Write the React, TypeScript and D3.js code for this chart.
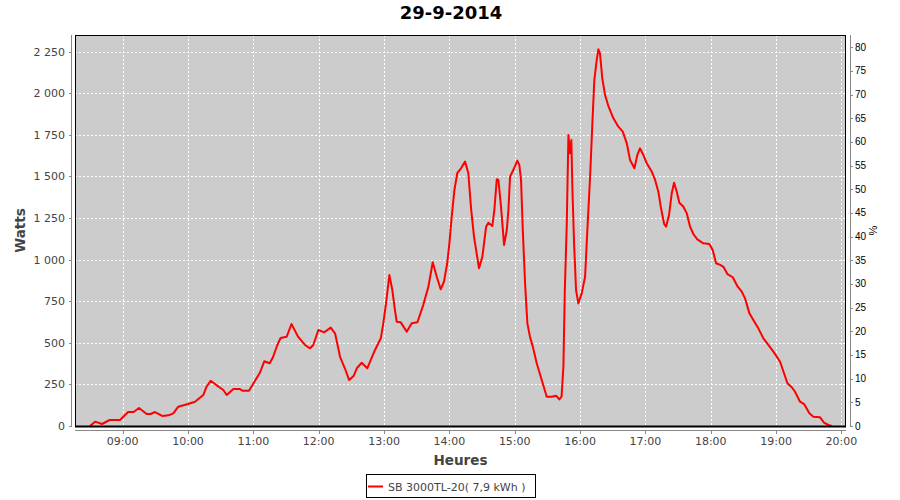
import React from "react";
import * as d3 from "d3";

const title = "29-9-2014";
const xLabel = "Heures";
const yLabel = "Watts";
const yRightLabel = "%";
const seriesName = "SB 3000TL-20( 7,9 kWh )";

// minutes since midnight
const minutes = [
  510, 514.6, 521, 528, 537.5, 545, 550, 555, 562, 565.7, 569.7, 576.7, 582, 586.5, 591, 600,
  606.4, 614, 617, 620.8, 626, 632.4, 635.5, 641.6, 647.7, 650, 656, 660, 666, 670, 675, 678,
  682, 685, 690.6, 695, 701, 707.4, 712, 715, 719.7, 725, 731, 735, 739.6, 744, 748, 752, 755,
  759.5, 764.6, 771.7, 777, 779.3, 781.8, 784.9, 787.6, 790, 791.6, 795.3, 800.8, 805.4, 810.6,
  816, 820.7, 824.7, 828.4, 832, 835, 838, 840, 842, 844.6, 847.3, 850.7, 854.4, 857.4, 859.9,
  862.6, 867.2, 870.3, 873.7, 875.8, 879.4, 881.3, 883.5, 885, 887.4, 890.2, 892.7, 894.2, 895.7,
  899.4, 902.4, 904.2, 905.8, 907.4, 909.5, 911.6, 914, 916.6, 920.2, 924.8, 929.4, 934, 938, 941,
  943, 944.7, 946, 947.8, 949.3, 950.8, 952, 952.9, 954.5, 956.3, 958.4, 961.5, 964.6, 967, 969.2,
  971.3, 973.1, 975.3, 976.8, 978.3, 980.4, 982.9, 986, 990.6, 995.2, 999.2, 1002.9, 1005.9,
  1009.9, 1012.6, 1015, 1018.1, 1021.2, 1025.8, 1028.9, 1031.9, 1034.1, 1037.2, 1039, 1041.7,
  1044.2, 1046.3, 1048.8, 1051.2, 1054.9, 1058, 1061, 1064, 1067.7, 1073.2, 1078.7, 1081.8,
  1084.9, 1088.6, 1091.6, 1095.3, 1100.2, 1104.4, 1108.5, 1111.5, 1115.5, 1119.1, 1123.7, 1128.3,
  1132.9, 1137.5, 1143.7, 1147.3, 1150.4, 1154.4, 1157.4, 1162, 1165.7, 1170.6, 1174.2, 1180.4,
  1184, 1188, 1191,
];

const watts = [
  0, 26, 12, 36, 36, 84, 84, 108, 72, 72, 84, 60, 64, 76, 116, 132,
  146, 186, 236, 272, 246, 216, 186, 222, 222, 212, 212, 256, 320, 389, 377, 413,
  487, 529, 537, 613, 537, 487, 467, 487, 577, 563, 591, 557, 416, 347, 276, 300, 347,
  380, 347, 457, 527, 617, 737, 907, 817, 697, 627, 623, 567, 617, 623,
  727, 837, 984, 897, 822, 867, 978, 1098, 1248, 1418, 1522, 1549, 1589, 1519, 1308,
  1138, 948, 1018, 1198, 1222, 1202, 1298, 1483, 1479, 1318, 1088, 1178, 1298, 1498,
  1549, 1595, 1569, 1479, 1178, 858, 617, 537, 477, 377, 276, 176, 176, 182, 160,
  176, 356, 817, 1218, 1749, 1639, 1719, 1438, 1098, 817, 737, 797, 897, 1218, 1498,
  1819, 2079, 2200, 2264, 2240, 2090, 1990, 1923, 1849, 1799, 1769, 1699, 1599,
  1549, 1629, 1669, 1629, 1579, 1529, 1479, 1408, 1318, 1214, 1198, 1268,
  1399, 1462, 1408, 1342, 1318, 1278, 1198, 1154, 1122, 1098, 1094, 1058,
  978, 968, 957, 913, 894, 841, 807, 767, 677, 637, 587, 527,
  487, 447, 386, 317, 257, 233, 206, 146, 132, 76, 56, 52,
  20, 6, 0,
];

const leftTicks = [0, 250, 500, 750, 1000, 1250, 1500, 1750, 2000, 2250];
const rightTicks = [0, 5, 10, 15, 20, 25, 30, 35, 40, 45, 50, 55, 60, 65, 70, 75, 80];
const hourTicks = [9, 10, 11, 12, 13, 14, 15, 16, 17, 18, 19, 20];

const toDate = (m: number) => new Date(2014, 8, 29, 0, 0, 0, Math.round(m * 60000));

export default function App() {
  const W = 900, H = 500;
  const L = 75, T = 35, R = 846, B = 426;

  const x = d3.scaleTime().domain([toDate(496.2), toDate(1204.2)]).range([L, R]);
  const y = d3.scaleLinear().domain([0, 2350]).range([B, T]);
  const yR = d3.scaleLinear().domain([0, 82.6]).range([B, T]);

  const locale = d3.formatLocale({ decimal: ",", thousands: " ", grouping: [3], currency: ["", "€"] });
  const fmtL = locale.format(",d");
  const fmtT = d3.timeFormat("%H:%M");

  const data = minutes.map((m, i) => ({ d: toDate(m), v: watts[i] }));
  const line = d3.line<{ d: Date; v: number }>().x((p) => x(p.d)).y((p) => y(p.v));

  const hourDates = hourTicks.map((h) => new Date(2014, 8, 29, h, 0, 0));
  const font = "'DejaVu Sans', sans-serif";

  return (
    <svg width={W} height={H} style={{ position: "absolute", left: 0, top: 0, background: "#fff" }}>
      <rect x={0} y={0} width={W} height={H} fill="#fff" />
      <text x={451} y={19} textAnchor="middle" fontFamily={font} fontWeight="bold" fontSize={18} fill="#000">
        {title}
      </text>

      {/* plot background */}
      <rect x={L} y={T} width={R - L} height={B - T} fill="#cccccc" />

      {/* grid */}
      {hourDates.map((d, i) => (
        <line key={"gx" + i} x1={Math.round(x(d)) + 0.5} x2={Math.round(x(d)) + 0.5} y1={T} y2={B}
          stroke="#fff" strokeWidth={1} strokeDasharray="2,2" />
      ))}
      {leftTicks.map((t, i) => (
        <line key={"gy" + i} x1={L} x2={R} y1={Math.round(y(t)) + 0.5} y2={Math.round(y(t)) + 0.5}
          stroke="#fff" strokeWidth={1} strokeDasharray="2,2" />
      ))}

      {/* series */}
      <path d={line(data) || ""} fill="none" stroke="#ff0000" strokeWidth={2} strokeLinejoin="round" />

      {/* plot outline */}
      <rect x={L + 0.5} y={T + 0.5} width={R - L - 1} height={B - T} fill="none" stroke="#000" strokeWidth={1} />
      <line x1={L} x2={R} y1={B + 0.5} y2={B + 0.5} stroke="#000" strokeWidth={2} />

      {/* left axis */}
      <line x1={71.5} x2={71.5} y1={T} y2={B + 1} stroke="#888" strokeWidth={1} />
      {leftTicks.map((t, i) => (
        <g key={"lt" + i}>
          <line x1={69} x2={71} y1={Math.round(y(t)) + 0.5} y2={Math.round(y(t)) + 0.5} stroke="#888" />
          <text x={65} y={y(t) + 4} textAnchor="end" fontFamily={font} fontSize={11} fill="#444">
            {fmtL(t)}
          </text>
        </g>
      ))}
      <text transform={`translate(25,${(T + B) / 2}) rotate(-90)`} textAnchor="middle" fontFamily={font}
        fontWeight="bold" fontSize={13.5} fill="#444">
        {yLabel}
      </text>

      {/* bottom axis */}
      <line x1={L} x2={R} y1={430.5} y2={430.5} stroke="#888" strokeWidth={1} />
      {hourDates.map((d, i) => (
        <g key={"xt" + i}>
          <line x1={Math.round(x(d)) + 0.5} x2={Math.round(x(d)) + 0.5} y1={431} y2={434} stroke="#888" />
          <text x={x(d)} y={445} textAnchor="middle" fontFamily={font} fontSize={11} fill="#444">
            {fmtT(d)}
          </text>
        </g>
      ))}
      <text x={(L + R) / 2} y={465} textAnchor="middle" fontFamily={font} fontWeight="bold" fontSize={13.5} fill="#444">
        {xLabel}
      </text>

      {/* right axis */}
      <line x1={850.5} x2={850.5} y1={T} y2={B + 1} stroke="#888" strokeWidth={1} />
      {rightTicks.map((t, i) => (
        <g key={"rt" + i}>
          <line x1={851} x2={853} y1={Math.round(yR(t)) + 0.5} y2={Math.round(yR(t)) + 0.5} stroke="#888" />
          <text x={855} y={yR(t) + 3.5} textAnchor="start" fontFamily="'Liberation Sans', Arial, sans-serif"
            fontSize={10} fill="#000">
            {t}
          </text>
        </g>
      ))}
      <text transform={`translate(877,${(T + B) / 2}) rotate(-90)`} textAnchor="middle"
        fontFamily="'Liberation Sans', Arial, sans-serif" fontSize={11} fill="#000">
        {yRightLabel}
      </text>

      {/* legend */}
      <rect x={366.5} y={474.5} width={169} height={23} fill="#fff" stroke="#000" strokeWidth={1} />
      <line x1={368} x2={383} y1={486.5} y2={486.5} stroke="#ff0000" strokeWidth={2} />
      <text x={388} y={490.5} fontFamily={font} fontSize={11} fill="#444">
        {seriesName}
      </text>
    </svg>
  );
}
